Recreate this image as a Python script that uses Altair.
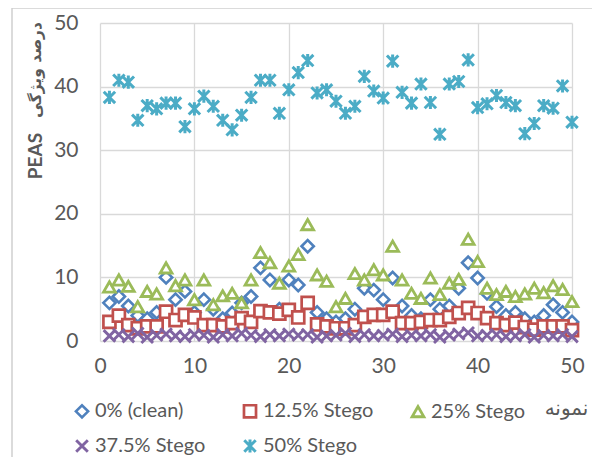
import altair as alt
import pandas as pd

sample = [1, 2, 3, 4, 5, 6, 7, 8, 9, 10, 11, 12, 13, 14, 15, 16, 17, 18, 19, 20,
          21, 22, 23, 24, 25, 26, 27, 28, 29, 30, 31, 32, 33, 34, 35, 36, 37, 38, 39, 40,
          41, 42, 43, 44, 45, 46, 47, 48, 49, 50]

clean = [6.0, 7.0, 5.5, 4.0, 3.5, 4.5, 10.0, 6.5, 7.8, 4.5, 6.5, 5.0, 3.5, 4.4, 6.0, 7.0, 11.5, 9.6, 5.0, 9.6,
         8.8, 14.9, 4.5, 3.5, 3.0, 3.5, 5.0, 8.3, 8.0, 6.5, 9.9, 5.5, 4.0, 3.5, 6.5, 5.0, 5.5, 8.3, 12.3, 9.9,
         7.5, 5.4, 4.0, 4.5, 3.5, 3.0, 4.0, 5.7, 4.5, 3.0]
stego_12 = [3.0, 4.0, 2.5, 2.0, 2.3, 2.3, 4.6, 3.3, 4.1, 3.7, 2.5, 2.5, 2.3, 2.8, 3.6, 3.0, 4.7, 4.5, 4.3, 4.9,
            3.7, 6.0, 2.6, 2.3, 2.0, 2.0, 2.5, 3.8, 4.1, 4.1, 4.6, 2.8, 2.8, 3.0, 3.3, 3.3, 3.8, 4.4, 5.2, 4.4,
            3.6, 2.8, 2.5, 2.9, 2.2, 1.8, 2.3, 2.3, 2.3, 1.7]
stego_25 = [8.5, 9.6, 8.6, 5.4, 7.8, 7.4, 11.5, 8.7, 9.6, 6.5, 9.6, 5.7, 7.1, 7.5, 6.0, 9.6, 13.9, 12.3, 9.1, 11.8,
            13.6, 18.3, 10.4, 9.4, 5.4, 6.7, 10.6, 9.6, 11.2, 10.4, 14.9, 9.6, 7.5, 6.7, 9.9, 7.3, 9.1, 9.7, 16.0, 12.5,
            8.3, 7.3, 7.8, 7.0, 7.4, 8.3, 7.6, 8.7, 8.1, 6.2]
stego_37 = [0.8, 1.0, 0.7, 1.2, 0.6, 0.9, 1.1, 0.8, 0.7, 1.0, 0.9, 0.6, 1.0, 0.8, 1.2, 0.9, 0.7, 1.0, 0.8, 1.1,
            0.9, 1.0, 0.6, 0.8, 0.9, 1.2, 0.7, 1.0, 0.8, 0.9, 1.1, 0.7, 0.9, 0.8, 1.0, 0.6, 0.9, 1.1, 1.3, 0.8,
            0.9, 1.0, 0.7, 0.8, 1.0, 0.6, 0.9, 0.8, 1.0, 0.7]
stego_50 = [38.3, 41.0, 40.7, 34.7, 37.0, 36.5, 37.4, 37.4, 33.7, 36.5, 38.5, 36.9, 34.7, 33.2, 35.5, 38.3, 41.0, 41.0, 35.8, 39.5,
            42.2, 44.1, 39.0, 39.5, 37.7, 35.8, 36.9, 41.6, 39.3, 38.2, 44.0, 39.1, 37.4, 40.4, 37.5, 32.5, 40.4, 40.8, 44.2, 36.7,
            37.3, 38.6, 37.5, 37.0, 32.6, 34.2, 37.0, 36.6, 40.1, 34.4]

series_names = ["0% (clean)", "12.5% Stego", "25% Stego", "37.5% Stego", "50% Stego"]
series_values = [clean, stego_12, stego_25, stego_37, stego_50]
colors = ["#4F81BD", "#C0504D", "#9BBB59", "#8064A2", "#4BACC6"]
shapes = ["diamond", "square", "triangle-up",
          "M-1,-1L1,1M-1,1L1,-1",
          "M-1,-1L1,1M-1,1L1,-1M0,-1.15L0,1.15"]
sizes = [150, 130, 175, 105, 240]
widths = [2.6, 3, 3, 2.8, 2.9]

x_ticks = [0, 10, 20, 30, 40, 50]
y_ticks = [0, 10, 20, 30, 40, 50]
y_title_latin = "PEAS"
y_title_persian = "درصد ویژگی"
x_title = "نمونه"

rows = []
for i, (name, vals) in enumerate(zip(series_names, series_values)):
    for s, v in zip(sample, vals):
        rows.append({"sample": s, "value": v, "series": name, "order": i})
df = pd.DataFrame(rows)

FONT = "Lato, DejaVu Sans"
GREY = "#595959"

points = alt.Chart(df).mark_point(filled=False, fill="white", opacity=1).encode(
    x=alt.X("sample:Q",
            scale=alt.Scale(domain=[0, 50], nice=False, zero=False),
            axis=alt.Axis(values=x_ticks, title=x_title, titleX=466, titleY=67,
                          titleAlign="center", titleBaseline="middle",
                          titleFontWeight="normal", titleFontSize=20,
                          labelPadding=14, labelFlush=False)),
    y=alt.Y("value:Q",
            scale=alt.Scale(domain=[0, 50], nice=False),
            axis=alt.Axis(values=y_ticks, title=None, labelPadding=22, labelFlush=False)),
    color=alt.Color("series:N",
                    scale=alt.Scale(domain=series_names, range=colors),
                    legend=alt.Legend(orient="none", legendX=-28, legendY=378,
                                      columns=3, direction="horizontal", title=None,
                                      labelFont=FONT, labelFontSize=20, labelColor=GREY,
                                      symbolSize=100, symbolStrokeWidth=2.5,
                                      symbolFillColor="white",
                                      columnPadding=32, rowPadding=10, labelOffset=3,
                                      padding=0)),
    shape=alt.Shape("series:N", scale=alt.Scale(domain=series_names, range=shapes)),
    size=alt.Size("series:N", scale=alt.Scale(domain=series_names, range=sizes), legend=None),
    strokeWidth=alt.StrokeWidth("series:N", scale=alt.Scale(domain=series_names, range=widths), legend=None),
    order=alt.Order("order:Q"),
)

one = alt.Data(values=[{"a": 1}])

border = alt.Chart(one).mark_rect(
    filled=False, stroke="#cfcfcf", strokeWidth=1.5, fill="transparent"
).encode(
    x=alt.value(-88), x2=alt.value(520), y=alt.value(-15), y2=alt.value(460)
)

title_latin = alt.Chart(one).mark_text(
    angle=270, align="center", baseline="middle", font="Lato", fontSize=19,
    fontWeight="bold", color=GREY
).encode(x=alt.value(-64), y=alt.value(133), text=alt.value(y_title_latin))

title_persian = alt.Chart(one).mark_text(
    angle=270, align="center", baseline="middle", font="DejaVu Sans", fontSize=15.5,
    fontWeight="bold", color=GREY
).encode(x=alt.value(-64), y=alt.value(47), text=alt.value(y_title_persian))

chart = alt.layer(border, points, title_latin, title_persian).properties(
    width=472, height=318,
    autosize=alt.AutoSizeParams(type="none"),
    padding={"left": 92, "top": 15, "right": 20, "bottom": 116},
).configure_view(stroke=None).configure_axis(
    gridColor="#d9d9d9", gridWidth=1.3, domain=False, ticks=False,
    labelColor=GREY, labelFont=FONT, labelFontSize=21,
    titleColor=GREY, titleFont=FONT,
)

chart.save("out.html", embed_options={"renderer": "svg", "actions": False})
